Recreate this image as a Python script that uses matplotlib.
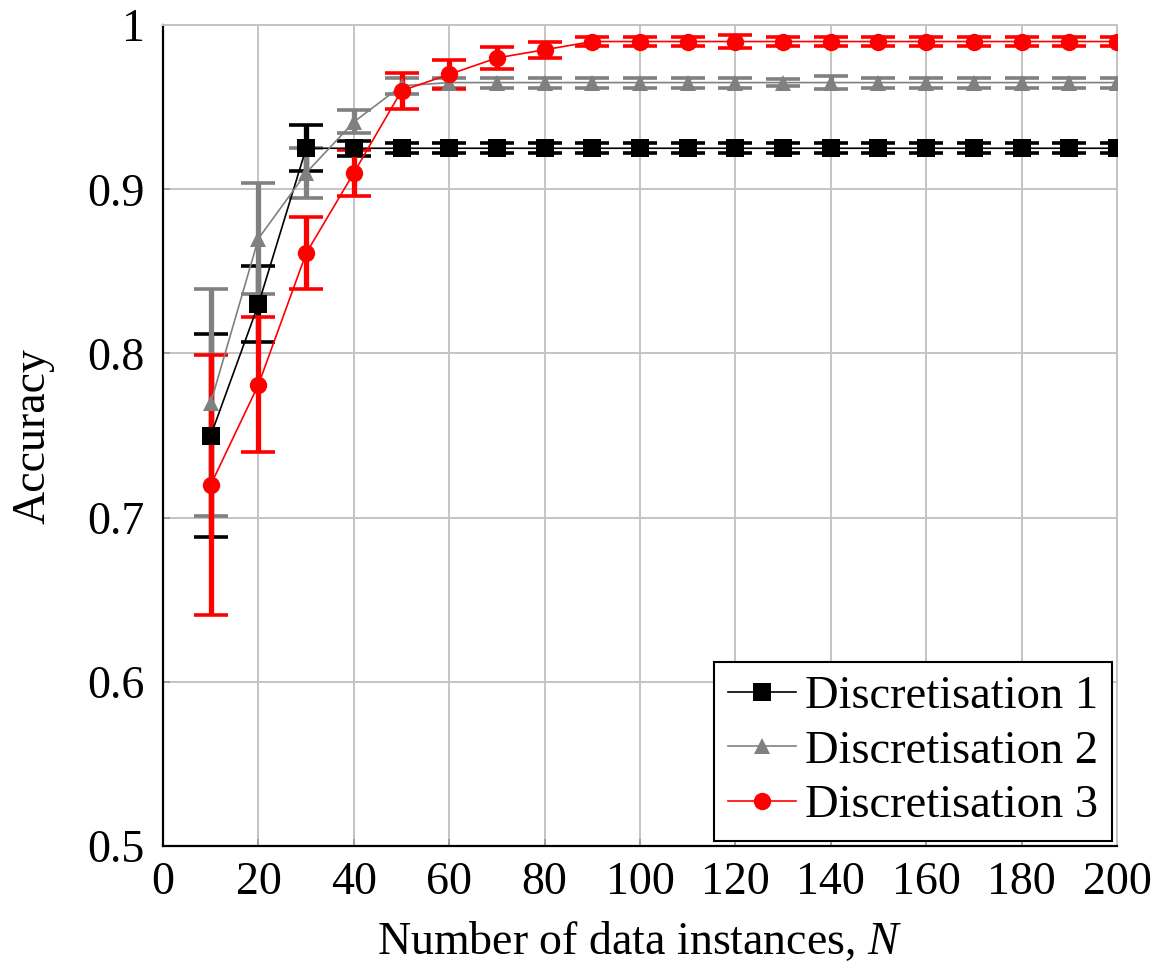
import matplotlib
matplotlib.use("Agg")
import matplotlib.pyplot as plt
from matplotlib.ticker import FixedLocator

plt.rcParams["font.family"] = ["Liberation Serif", "DejaVu Serif"]
plt.rcParams["mathtext.fontset"] = "custom"
plt.rcParams["mathtext.it"] = "Liberation Serif:italic"
plt.rcParams["mathtext.rm"] = "Liberation Serif"

# Number of data instances
n_instances = [10, 20, 30, 40, 50, 60, 70, 80, 90, 100,
               110, 120, 130, 140, 150, 160, 170, 180, 190, 200]

# Mean accuracy and error (half-width) for each discretisation
acc_d1 = [0.750, 0.830, 0.925, 0.925, 0.925, 0.925, 0.925, 0.925, 0.925, 0.925,
          0.925, 0.925, 0.925, 0.925, 0.925, 0.925, 0.925, 0.925, 0.925, 0.925]
err_d1 = [0.062, 0.023, 0.014, 0.0045, 0.003, 0.003, 0.003, 0.003, 0.003, 0.003,
          0.003, 0.003, 0.003, 0.003, 0.003, 0.003, 0.003, 0.003, 0.003, 0.003]

acc_d2 = [0.770, 0.870, 0.910, 0.941, 0.963, 0.965, 0.965, 0.965, 0.965, 0.965,
          0.965, 0.965, 0.965, 0.965, 0.965, 0.965, 0.965, 0.965, 0.965, 0.965]
err_d2 = [0.069, 0.034, 0.015, 0.007, 0.005, 0.003, 0.003, 0.003, 0.003, 0.003,
          0.003, 0.003, 0.002, 0.004, 0.003, 0.003, 0.003, 0.003, 0.003, 0.003]

acc_d3 = [0.720, 0.781, 0.861, 0.910, 0.960, 0.970, 0.980, 0.985, 0.990, 0.990,
          0.990, 0.990, 0.990, 0.990, 0.990, 0.990, 0.990, 0.990, 0.990, 0.990]
err_d3 = [0.079, 0.041, 0.022, 0.014, 0.011, 0.009, 0.0065, 0.005, 0.003, 0.003,
          0.003, 0.004, 0.003, 0.003, 0.003, 0.003, 0.003, 0.003, 0.003, 0.003]

series = [
    ("Discretisation 1", acc_d1, err_d1, "black", "s", 13),
    ("Discretisation 2", acc_d2, err_d2, "#808080", "^", 11),
    ("Discretisation 3", acc_d3, err_d3, "red", "o", 12.5),
]

x_ticks = list(range(0, 201, 20))
y_ticks = [0.5, 0.6, 0.7, 0.8, 0.9, 1.0]
y_tick_labels = ["0.5", "0.6", "0.7", "0.8", "0.9", "1"]

fig = plt.figure(figsize=(11.68, 9.66), dpi=100)
ax = fig.add_axes([0.1396, 0.1242, 0.9563 - 0.1396, 0.974 - 0.1242])

grid_col = "#c4c4c4"
fs = 33

# Error bars first, then lines with markers on top
for label, acc, err, col, mk, ms in series:
    ax.errorbar(n_instances, acc, yerr=err, fmt="none", ecolor=col,
                elinewidth=3.8, capsize=12, capthick=2.6, zorder=2)

for label, acc, err, col, mk, ms in series:
    ax.plot(n_instances, acc, color=col, lw=1.2, marker=mk, markersize=ms,
            markeredgewidth=0, label=label, zorder=3)

ax.set_xlim(0, 200)
ax.set_ylim(0.5, 1.0)
ax.xaxis.set_major_locator(FixedLocator(x_ticks))
ax.set_yticks(y_ticks)
ax.set_yticklabels(y_tick_labels)
ax.grid(True, color=grid_col, lw=1.4, zorder=0)
ax.set_axisbelow(True)

for side in ("top", "right"):
    ax.spines[side].set_color(grid_col)
    ax.spines[side].set_linewidth(1.4)
for side in ("left", "bottom"):
    ax.spines[side].set_color("black")
    ax.spines[side].set_linewidth(1.6)

ax.tick_params(axis="both", direction="in", length=5, width=1.2,
               color="#999999", labelsize=fs)
ax.tick_params(axis="x", pad=11)
ax.tick_params(axis="y", pad=13)

ax.set_xlabel("Number of data instances, $N$", fontsize=fs, labelpad=12)
ax.set_ylabel("Accuracy", fontsize=fs, labelpad=24)

leg = ax.legend(loc="lower right", fontsize=33.5, frameon=True, fancybox=False,
                edgecolor="black", framealpha=1, borderaxespad=0.1,
                handlelength=1.45, handletextpad=0.2, labelspacing=0.26,
                borderpad=0.3)
leg.get_frame().set_linewidth(1.5)

fig.savefig("out.png", dpi=100)
